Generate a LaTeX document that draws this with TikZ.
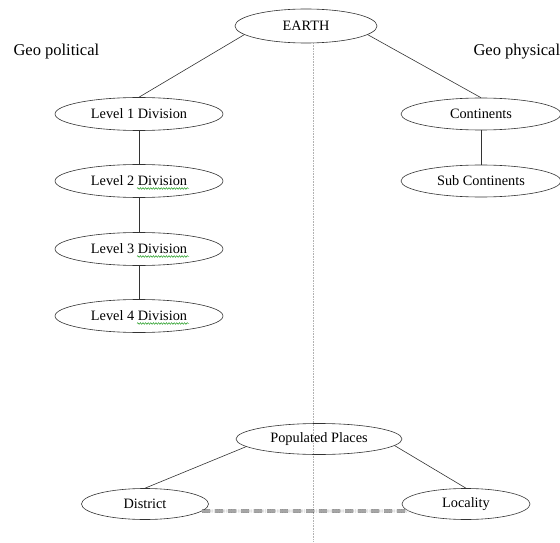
\documentclass[tikz,border=0pt]{standalone}
\usepackage{fontspec}
\setmainfont{Liberation Serif}
\usetikzlibrary{shapes,calc,snakes}
\tikzset{
  place/.style={ellipse, draw=black!80, line width=.6pt, inner sep=0pt,
    minimum width=168pt, minimum height=33pt, font=\fontsize{14.3}{17}\selectfont},
  link/.style={draw=black!80, line width=.6pt},
  squig/.style={draw=green!55!black, line width=.4pt, decorate,
    decoration={snake, amplitude=.9pt, segment length=2.6pt}}
}
\begin{document}
\begin{tikzpicture}[x=1pt,y=1pt]
\useasboundingbox (0,0) rectangle (560,542);
% the axis between the two halves
\coordinate (axtop) at (313,499);
\coordinate (axbot) at (313,0);
\draw[gray!60, densely dotted, line width=.6pt] (axtop) -- (axbot);
\node[place, minimum width=142pt, minimum height=34pt] (earth) at (306,516) {EARTH};
\node[anchor = west, font=\fontsize{16.5}{19}\selectfont] (geopol) at (10,490) {Geo political};
\node[anchor = west, font=\fontsize{16.5}{19}\selectfont] (geophy) at (470,490) {Geo physical};
% left column
\node[place] (lev1) at (139,428) {Level 1 Division};
\node[place] (lev2) at (139,361) {Level 2 Division};
\node[place] (lev3) at (139,293) {Level 3 Division};
\node[place] (lev4) at (139,226) {Level 4 Division};
% right column
\node[place, minimum width=160pt, minimum height=32pt] (cont) at (481,428) {Continents};
\node[place, minimum width=160pt, minimum height=32pt] (subcont) at (481,361) {Sub Continents};
% bottom
\node[place, minimum width=166pt, minimum height=31pt] (pop) at (319,103) {Populated Places};
\node[place, minimum width=127pt, minimum height=31pt] (district) at (145,38) {District};
\node[place, minimum width=128pt, minimum height=31pt] (locality) at (466,38) {Locality};
\draw[link] (earth.188) -- (lev1.north);
\draw[link] (earth.352) -- (cont.north);
\draw[link] (lev1) -- (lev2);
\draw[link] (lev2) -- (lev3);
\draw[link] (lev3) -- (lev4);
\draw[link] (cont) -- (subcont);
\draw[link] (pop.186) -- (district.north);
\draw[link] (pop.355) -- (locality.north);
\draw[gray!60, double, line width=.7pt, double distance=1.3pt, densely dotted] (district.-7) -- (locality.187);
\draw[black, double, line width=.7pt, double distance=1.3pt, dash pattern=on 8pt off 5pt] (district.-7) -- (locality.187);
% spell check marks
\foreach \n in {lev2,lev3,lev4}
  \draw[squig] ($(\n)+(-2,-7.5)$) -- ($(\n)+(50,-7.5)$);
\end{tikzpicture}
\end{document}
